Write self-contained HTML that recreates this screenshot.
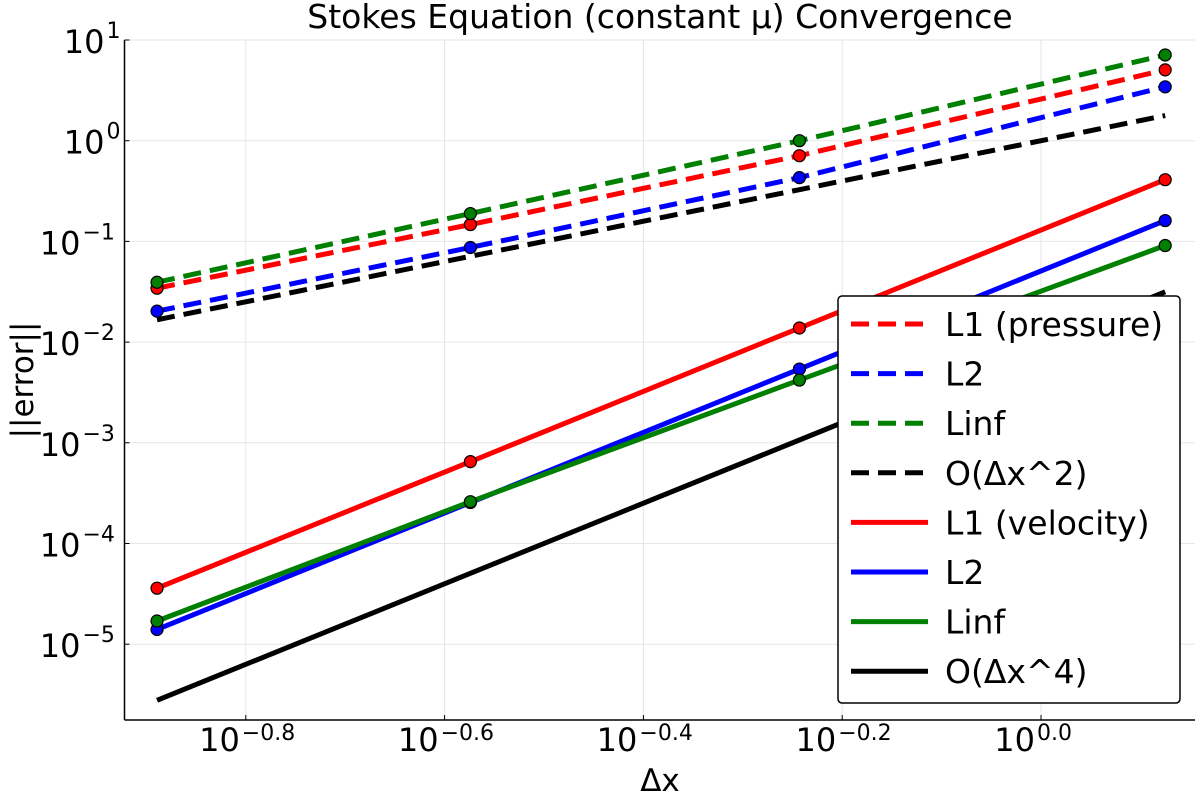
<!DOCTYPE html>
<html><head><meta charset="utf-8"><style>
body{margin:0;background:#fff;}
svg text{font-family:"DejaVu Sans","Liberation Sans",sans-serif;}
</style></head><body>
<svg id="chart" width="1200" height="800" xmlns="http://www.w3.org/2000/svg">
<g id="grid"></g>
<g id="axes"></g>
<g id="series"></g>
<text x="660" y="28" font-size="33" text-anchor="middle">Stokes Equation (constant μ) Convergence</text>
<text x="660" y="791" font-size="31" text-anchor="middle">Δx</text>
<text transform="translate(33,380) rotate(-90)" font-size="31" text-anchor="middle">||error||</text>
<g id="legend"></g>
</svg>
<script>
const dx = [4/31, 4/15, 4/7, 4/3];
const p_L1 = [0.0343, 0.147, 0.71, 5.05];
const p_L2 = [0.0203, 0.087, 0.43, 3.43];
const p_Linf = [0.0393, 0.189, 1.0, 7.1];
const v_L1 = [3.6e-5, 6.5e-4, 0.0138, 0.41];
const v_L2 = [1.4e-5, 2.55e-4, 5.4e-3, 0.161];
const v_Linf = [1.7e-5, 2.6e-4, 4.2e-3, 0.091];
const order2Coef = 1.0;
const order4Coef = 0.01;
const xTickExps = [-0.8, -0.6, -0.4, -0.2, 0.0];
const xTickLabels = ["−0.8","−0.6","−0.4","−0.2","0.0"];
const yTickExps = [1,0,-1,-2,-3,-4,-5];
const yTickLabels = ["1","0","−1","−2","−3","−4","−5"];

const NS="http://www.w3.org/2000/svg";
const L=124.5,R=1195,T=40,B=720;
const X=v=>1041+994*Math.log10(v);
const Y=v=>40+(1-Math.log10(v))*100.7;
function mk(tag,attrs,parent){const e=document.createElementNS(NS,tag);for(const k in attrs)e.setAttribute(k,attrs[k]);parent.appendChild(e);return e;}
const grid=document.getElementById('grid'),axes=document.getElementById('axes'),ser=document.getElementById('series'),leg=document.getElementById('legend');
xTickExps.forEach((e,i)=>{const x=X(Math.pow(10,e));
 const g=mk('line',{x1:x,x2:x,y1:T,y2:B,stroke:'#e6e6e6','stroke-width':1},grid);
 
 mk('line',{x1:x,x2:x,y1:B,y2:B-5,stroke:'#000','stroke-width':1},axes);
 const t=mk('text',{x:x-6,y:751,'font-size':32,'text-anchor':'end'},axes);t.textContent='10';
 
 const s=mk('text',{x:x-4,y:740,'font-size':22},axes);s.textContent=xTickLabels[i];
 
});
yTickExps.forEach((e,i)=>{const y=Y(Math.pow(10,e));
 const g=mk('line',{x1:L,x2:R,y1:y,y2:y,stroke:'#e6e6e6','stroke-width':1},grid);
 
 mk('line',{x1:L,x2:L+5,y1:y,y2:y,stroke:'#000','stroke-width':1},axes);
 const w=yTickLabels[i].length>1?38:14;
 const t=mk('text',{x:L-6-w,y:y+13,'font-size':32,'text-anchor':'end'},axes);t.textContent='10';
 
 const s=mk('text',{x:L-4-w,y:y-2,'font-size':22},axes);s.textContent=yTickLabels[i];
 
});
mk('line',{x1:L,x2:L,y1:T,y2:B,stroke:'#000','stroke-width':1.5},axes);
mk('line',{x1:L,x2:R,y1:B,y2:B,stroke:'#000','stroke-width':1.5},axes);

const order2=dx.map(d=>order2Coef*d*d), order4=dx.map(d=>order4Coef*Math.pow(d,4));
const list=[
 ['pressure-l1',p_L1,'#ff0000',true,true,'L1 (pressure)'],
 ['pressure-l2',p_L2,'#0000ff',true,true,'L2'],
 ['pressure-linf',p_Linf,'#008000',true,true,'Linf'],
 ['order-2-reference',order2,'#000',true,false,'O(Δx^2)'],
 ['velocity-l1',v_L1,'#ff0000',false,true,'L1 (velocity)'],
 ['velocity-l2',v_L2,'#0000ff',false,true,'L2'],
 ['velocity-linf',v_Linf,'#008000',false,true,'Linf'],
 ['order-4-reference',order4,'#000',false,false,'O(Δx^4)']];
list.forEach(([name,vals,c,dash,mark])=>{
 const pts=dx.map((d,i)=>X(d)+','+Y(vals[i])).join(' ');
 const pl=mk('polyline',{points:pts,fill:'none',stroke:c,'stroke-width':5,'stroke-dasharray':dash?'18 9':'none'},ser);
 
 if(mark) dx.forEach((d,i)=>{const ci=mk('circle',{cx:X(d),cy:Y(vals[i]),r:6,fill:c,stroke:'#000','stroke-width':1.2},ser);
  });
});
const box=mk('rect',{x:838,y:296,width:342,height:407,rx:4,fill:'#fff',stroke:'#000','stroke-width':1.5},leg);

list.forEach(([name,vals,c,dash,mark,label],i)=>{const y=324+i*49.6;
 const ln=mk('line',{x1:851,x2:928,y1:y,y2:y,stroke:c,'stroke-width':5,'stroke-dasharray':dash?'18 9':'none'},leg);
 
 const t=mk('text',{x:945,y:y+12,'font-size':33},leg);t.textContent=label;
 
});
</script>
</body></html>
